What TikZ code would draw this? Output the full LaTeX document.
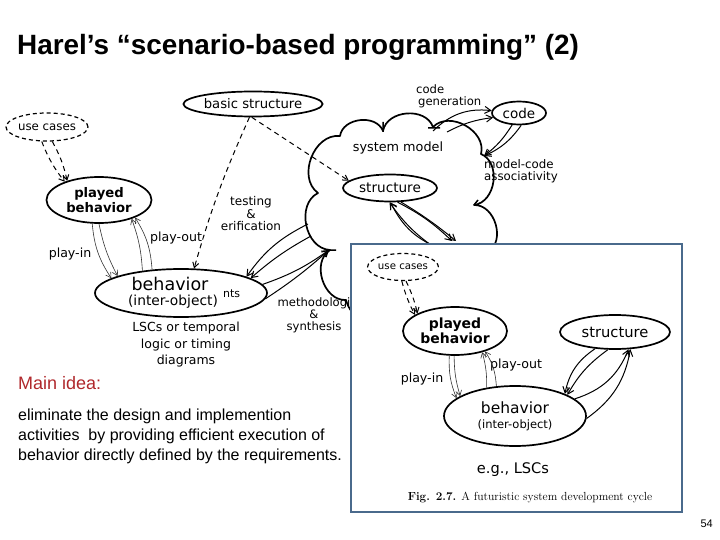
\documentclass[tikz,border=0pt]{standalone}
\usepackage{fontspec}
\newfontfamily\arial{Liberation Sans}
\newfontfamily\hand{DejaVu Sans}
\usetikzlibrary{shapes.geometric,arrows.meta}
\definecolor{boxblue}{HTML}{4A6A8C}
\definecolor{mainred}{HTML}{B0282C}
\tikzset{
  ell/.style={draw, ellipse, line width=1.7pt, inner sep=0pt, align=center, font=\hand},
  dell/.style={draw, ellipse, line width=1.2pt, dash pattern=on 4pt off 3pt, inner sep=0pt, font=\hand\fontsize{11.8}{14}\selectfont},
  tarrow/.style={-{Straight Barb[length=5pt,width=6pt]}, line width=0.6pt, black!80},
  marrow/.style={-{Straight Barb[length=6pt,width=7pt]}, line width=1.0pt},
  darrow/.style={-{Straight Barb[length=5pt,width=6pt]}, line width=1.0pt, dash pattern=on 5pt off 4pt},
  lbl/.style={font=\hand\fontsize{12}{12.5}\selectfont, align=center, inner sep=0pt},
  lobe/.style={bend left=75, looseness=1.1},
  body/.style={font=\arial\fontsize{16}{20}\selectfont, align=left, anchor=north west, inner sep=0pt},
}
\begin{document}
\begin{tikzpicture}[x=1pt,y=-1pt]
\useasboundingbox (0,0) rectangle (720,540);
\fill[white] (0,0) rectangle (720,540);
% title
\node[anchor=base west, inner sep=0pt, font=\arial\bfseries\fontsize{27.9}{30}\selectfont] (title) at (17,55) {Harel’s “scenario-based programming” (2)};

% ---------- left diagram ----------
% cloud "system model"
\draw[line width=1.7pt, line join=round] (346,300) to[lobe] (330,250) to[lobe] (318,193) to[lobe] (340,136)
   to[lobe] (383,131) to[lobe] (433,127) to[lobe] (481,154) to[lobe] (474,205) to[lobe] (488,252)
   to[lobe] (440,300) to[lobe] cycle;
\draw[line width=1.5pt] (383,122) -- (383,132) (428,128) -- (440,128) (474,205) -- (478,200) (330,250) -- (336,250);
\node[ell, minimum width=94pt, minimum height=27pt, font=\hand\fontsize{13.6}{16}\selectfont] (st) at (390,188) {structure};
\node[ell, minimum width=125pt, minimum height=25pt, font=\hand\fontsize{13.2}{15}\selectfont] (bs) at (253,104) {basic structure};
\node[ell, minimum width=54pt, minimum height=23pt, font=\hand\fontsize{13.5}{16}\selectfont] (cd) at (519,113) {code};
\node[dell, minimum width=80pt, minimum height=28pt] (uc) at (47,127) {use cases};
\node[ell, minimum width=105pt, minimum height=46pt, font=\hand\bfseries\fontsize{13.2}{15}\selectfont] (pb) at (99,200) {played\\behavior};
\node[ell, minimum width=172pt, minimum height=48pt] (bh) at (181,293) {\fontsize{17.5}{19}\selectfont behavior\hspace*{22pt}\\[3pt]\fontsize{13.8}{15}\selectfont (inter-object)\hspace*{16pt}};

\node[lbl, anchor=west, align=left, font=\hand\fontsize{11.6}{12}\selectfont] (cg) at (416,96) {code\\\hspace*{2pt}generation};
\node[lbl, font=\hand\fontsize{12.8}{14}\selectfont] (sm) at (398,148) {system model};
\node[lbl, anchor=west, align=left, font=\hand\fontsize{11.8}{12.5}\selectfont] (mca) at (484,171) {model-code\\associativity};
\node[lbl] (tv) at (251,214) {testing\\\&\\erification};
\node[lbl, font=\hand\fontsize{12.6}{13}\selectfont] (po) at (176,238) {play-out};
\node[lbl, font=\hand\fontsize{12.6}{13}\selectfont] (pi) at (70,254) {play-in};
\node[lbl, anchor=west, font=\hand\fontsize{11}{12}\selectfont] (nts) at (223,294) {nts};
\node[lbl, font=\hand\fontsize{11.6}{12}\selectfont] (ms) at (314,315) {methodologi\\\&\\synthesis};
\node[lbl, font=\hand\fontsize{12.5}{16.5}\selectfont] (lsc) at (186,345) {LSCs or temporal\\logic or timing\\diagrams};

\coordinate (c1) at (308,224);
\coordinate (c2) at (311,236);
\coordinate (c3) at (329,250);
\coordinate (c4) at (433,131);
\coordinate (c5) at (447,132);
\coordinate (c6) at (484,156);
\coordinate (c7) at (438,250);
\coordinate (c8) at (444,250);
\coordinate (c9) at (452,241);
\coordinate (c10) at (456,241);

% dashed
\draw[darrow] (uc.-110) to[bend right=8] (pb.152);
\draw[darrow] (uc.-70) to[bend left=8] (pb.149);
\draw[darrow] (bs.-105) to[bend right=4] (bh.62);
\draw[darrow] (bs.-95) -- (st.170);
% play-in / play-out
\draw[tarrow] (pb.-106) to[bend right=14] (bh.168);
\draw[tarrow] (pb.-90) to[bend right=8] (bh.165);
\draw[tarrow] (bh.150) to[bend right=8] (pb.-30);
\draw[tarrow] (bh.141) to[bend right=14] (pb.-26);
% cloud <-> behavior
\draw[marrow] (c1) to[bend right=14] (bh.14);
\draw[marrow] (c2) to[bend right=6] (bh.12);
\draw[marrow] (bh.6) to[bend right=8] (c3);
\draw[marrow] (bh.-4) to[bend right=4] (c3);
% code
\draw[marrow] (c4) to[bend left=25] (cd.175);
\draw[marrow] (c5) to[bend left=10] (cd.190);
\draw[marrow] (cd.-120) to[bend left=10] (c6);
\draw[marrow] (cd.-80) to[bend left=15] (c6);
% structure <-> below
\draw[marrow] (c7) to[bend left=10] (st.-92);
\draw[marrow] (c8) to[bend left=22] (st.-88);
\draw[marrow] (st.-62) to[bend left=8] (c9);
\draw[marrow] (st.-52) to[bend left=4] (c10);

% ---------- inset ----------
\draw[boxblue, line width=2.2pt, fill=white] (351,244) rectangle (682,512);
\node[dell, minimum width=68pt, minimum height=27pt, font=\hand\fontsize{10.2}{12}\selectfont] (uc2) at (403,267) {use cases};
\node[ell, minimum width=104pt, minimum height=48pt, font=\hand\bfseries\fontsize{14}{15}\selectfont] (pb2) at (455,331) {played\\behavior};
\node[ell, minimum width=110pt, minimum height=34pt, font=\hand\fontsize{14.7}{16}\selectfont] (st2) at (615,332) {structure};
\node[ell, minimum width=142pt, minimum height=60pt] (bh2) at (515,416) {\fontsize{15.5}{17}\selectfont behavior\\[3pt]\fontsize{11.5}{13}\selectfont (inter-object)};
\node[lbl, font=\hand\fontsize{12.6}{13}\selectfont] (pi2) at (422,379) {play-in};
\node[lbl, font=\hand\fontsize{12.6}{13}\selectfont] (po2) at (516,365) {play-out};
\node[lbl, font=\hand\fontsize{14.6}{17}\selectfont] (eg) at (513,470) {e.g., LSCs};
\node[inner sep=0pt, font=\normalfont\fontsize{11.7}{13}\selectfont] (cap) at (530,498) {\textbf{Fig. 2.7.} A futuristic system development cycle};

\draw[darrow] (uc2.-95) to[bend right=6] (pb2.158);
\draw[darrow] (uc2.-78) to[bend left=6] (pb2.155);
\draw[tarrow] (pb2.-103) to[bend right=12] (bh2.163);
\draw[tarrow] (pb2.-92) to[bend right=8] (bh2.160);
\draw[tarrow] (bh2.135) to[bend right=8] (pb2.-38);
\draw[tarrow] (bh2.122) to[bend right=14] (pb2.-34);
\draw[marrow] (st2.-140) to[bend right=22] (bh2.24);
\draw[marrow] (st2.-112) to[bend right=12] (bh2.22);
\draw[marrow] (bh2.16) to[bend right=25] (st2.-52);
\draw[marrow] (bh2.-2) to[bend right=22] (st2.-48);

% ---------- text ----------
\node[anchor=base west, inner sep=0pt, text=mainred, font=\arial\fontsize{18}{20}\selectfont] (mi) at (18,389) {Main idea:};
\node[body] (para) at (18,409) {eliminate the design and implemention\\activities\ \ by providing efficient execution of\\behavior directly defined by the requirements.};
\node[anchor=base east, inner sep=0pt, font=\arial\fontsize{11}{13}\selectfont] (pg) at (713,527) {54};
\end{tikzpicture}
\end{document}
